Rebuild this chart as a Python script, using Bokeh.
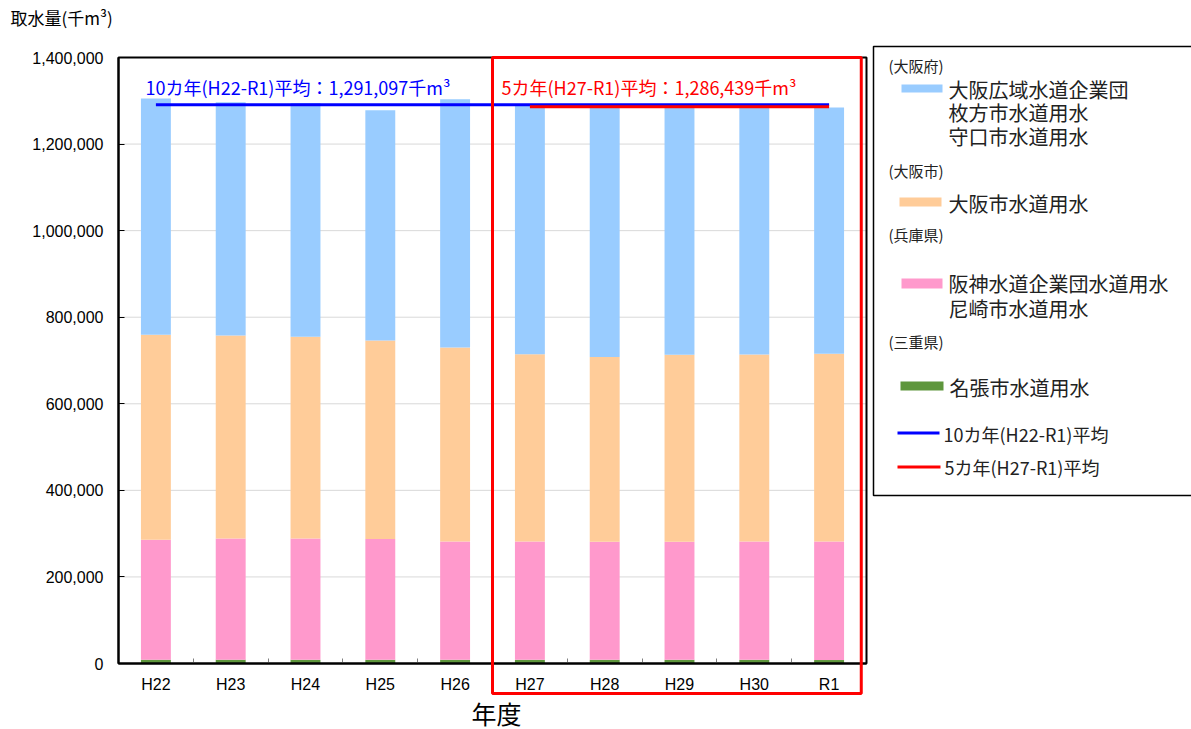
from bokeh.plotting import figure
from bokeh.models import (ColumnDataSource, Range1d, NumeralTickFormatter, FixedTicker,
                          BoxAnnotation, Label)
from bokeh.embed import file_html
from bokeh.resources import INLINE

# ---- data (千m3) ----
years = ["H22", "H23", "H24", "H25", "H26", "H27", "H28", "H29", "H30", "R1"]
nabari = [8500, 8500, 8500, 8500, 8500, 8500, 8500, 8500, 8500, 8000]              # 三重県
hyogo = [277500, 280500, 280500, 279100, 273600, 273600, 272900, 272900, 273600, 274100]  # 兵庫県
osaka_city = [473300, 468700, 465700, 458600, 448000, 432600, 426400, 431900, 431900, 433500]  # 大阪市
osaka_pref = [546200, 538800, 540300, 531800, 573675, 576300, 577700, 572200, 571695, 568900]  # 大阪府
avg10 = 1291097
avg5 = 1286439
period5_start = "H27"
y_ticks = [0, 200000, 400000, 600000, 800000, 1000000, 1200000, 1400000]

series = ["nabari", "hyogo", "osaka_city", "osaka_pref"]
colors = ["#5E963C", "#FF99CC", "#FFCC99", "#99CCFF"]

JP = "Noto Sans CJK JP"
NUM = "Liberation Sans"

# ---- layout constants (pixels) ----
W, H = 1191, 729
PL, PR, PT, PB = 118, 866, 57, 663
n = len(years)
YMAX = y_ticks[-1]
ky = YMAX / (PB - PT)
kx = n / (PR - PL)

xs = [i + 0.5 for i in range(n)]
source = ColumnDataSource(dict(x=xs, year=years, nabari=nabari, hyogo=hyogo,
                               osaka_city=osaka_city, osaka_pref=osaka_pref))

p = figure(width=W, height=H,
           x_range=Range1d(-PL * kx, (W - PL) * kx),
           y_range=Range1d(-(H - PB) * ky, PB * ky),
           output_backend="svg", toolbar_location=None,
           min_border=0, min_border_left=0, min_border_right=0,
           min_border_top=0, min_border_bottom=0)
p.title.visible = False
p.outline_line_color = None
p.background_fill_color = "white"
p.border_fill_color = "white"
p.xgrid.grid_line_color = None
p.ygrid.grid_line_color = None

# grid lines inside the plot box
p.segment(x0=[0] * (len(y_ticks) - 2), x1=[n] * (len(y_ticks) - 2),
          y0=y_ticks[1:-1], y1=y_ticks[1:-1], line_color="#d9d9d9", line_width=1)

p.vbar_stack(series, x="x", width=0.4, fill_color=colors, line_color=None, source=source)

# average lines
i5 = years.index(period5_start)
p.segment(x0=[xs[0]], x1=[xs[-1]], y0=[avg10], y1=[avg10], line_color="#0000FF", line_width=3)
p.segment(x0=[xs[i5]], x1=[xs[-1]], y0=[avg5], y1=[avg5], line_color="#FF0000", line_width=3)

# plot box
p.add_layout(BoxAnnotation(left=0, right=n, bottom=0, top=YMAX, fill_alpha=0,
                           line_color="black", line_alpha=1, line_width=2))

# axes
p.yaxis.fixed_location = 0
p.yaxis.bounds = (0, YMAX)
p.yaxis.ticker = FixedTicker(ticks=y_ticks, minor_ticks=[])
p.yaxis.formatter = NumeralTickFormatter(format="0,0")
p.yaxis.major_tick_in = 6
p.yaxis.major_tick_out = 0
p.yaxis.minor_tick_line_color = None
p.yaxis.axis_line_width = 2
p.yaxis.major_label_standoff = 15
p.yaxis.major_label_text_font = NUM
p.yaxis.major_label_text_font_size = "16px"
p.yaxis.major_label_text_color = "black"

p.xaxis.fixed_location = 0
p.xaxis.bounds = (0, n)
p.xaxis.ticker = FixedTicker(ticks=xs, minor_ticks=list(range(1, n)))
p.xaxis.major_label_overrides = {x: y for x, y in zip(xs, years)}
p.xaxis.major_tick_line_color = None
p.xaxis.minor_tick_in = 5
p.xaxis.minor_tick_out = 0
p.xaxis.minor_tick_line_color = "#808080"
p.xaxis.axis_line_width = 2
p.xaxis.major_label_standoff = 6
p.xaxis.major_label_text_font = NUM
p.xaxis.major_label_text_font_size = "16px"
p.xaxis.major_label_text_color = "black"

# red frame around the 5-year period
p.add_layout(BoxAnnotation(left=i5, right=n - 0.07, top=YMAX, bottom=693, bottom_units="canvas",
                           fill_alpha=0, line_color="#FF0000", line_alpha=1, line_width=3))


def lab(x, y, text, size, color="black", font=JP, align="left"):
    p.add_layout(Label(x=x, y=y, x_units="canvas", y_units="canvas", text=text,
                       text_font=font, text_font_size=size, text_color=color,
                       text_baseline="middle", text_align=align))


lab(10, 17, "取水量(千m³)", "17px")
lab(496, 712, "年度", "25px", align="center")
lab(145, 86, "10カ年(H22-R1)平均：{:,}千m³".format(avg10), "18px", color="#0000FF")
lab(501, 86, "5カ年(H27-R1)平均：{:,}千m³".format(avg5), "18px", color="#FF0000")

# legend
p.add_layout(BoxAnnotation(left=873, right=1200, top=46, bottom=495,
                           left_units="canvas", right_units="canvas",
                           top_units="canvas", bottom_units="canvas",
                           fill_color="white", fill_alpha=1, line_color="black",
                           line_alpha=1, line_width=1.5))


def swatch(l, r, t, b, color):
    p.add_layout(BoxAnnotation(left=l, right=r, top=t, bottom=b,
                               left_units="canvas", right_units="canvas",
                               top_units="canvas", bottom_units="canvas",
                               fill_color=color, fill_alpha=1, line_color=None))


TXT = "#222222"
lab(888, 65, "(大阪府)", "15px", color=TXT)
swatch(901, 942, 84, 92, colors[3])
lab(948, 89, "大阪広域水道企業団", "20px", color=TXT)
lab(948, 112, "枚方市水道用水", "20px", color=TXT)
lab(948, 136, "守口市水道用水", "20px", color=TXT)

lab(888, 170, "(大阪市)", "15px", color=TXT)
swatch(899, 941, 197, 206, colors[2])
lab(948, 203, "大阪市水道用水", "20px", color=TXT)

lab(888, 234, "(兵庫県)", "15px", color=TXT)
swatch(901, 942, 278, 288, colors[1])
lab(948, 283, "阪神水道企業団水道用水", "20px", color=TXT)
lab(948, 308, "尼崎市水道用水", "20px", color=TXT)

lab(888, 341, "(三重県)", "15px", color=TXT)
swatch(900, 943, 381, 390, colors[0])
lab(949, 387, "名張市水道用水", "20px", color=TXT)

swatch(897, 939, 431, 434, "#0000FF")
lab(943, 433, "10カ年(H22-R1)平均", "18px", color=TXT)
swatch(897, 940, 465, 468, "#FF0000")
lab(944, 466, "5カ年(H27-R1)平均", "18px", color=TXT)

open("out.html", "w").write(file_html(p, INLINE))
